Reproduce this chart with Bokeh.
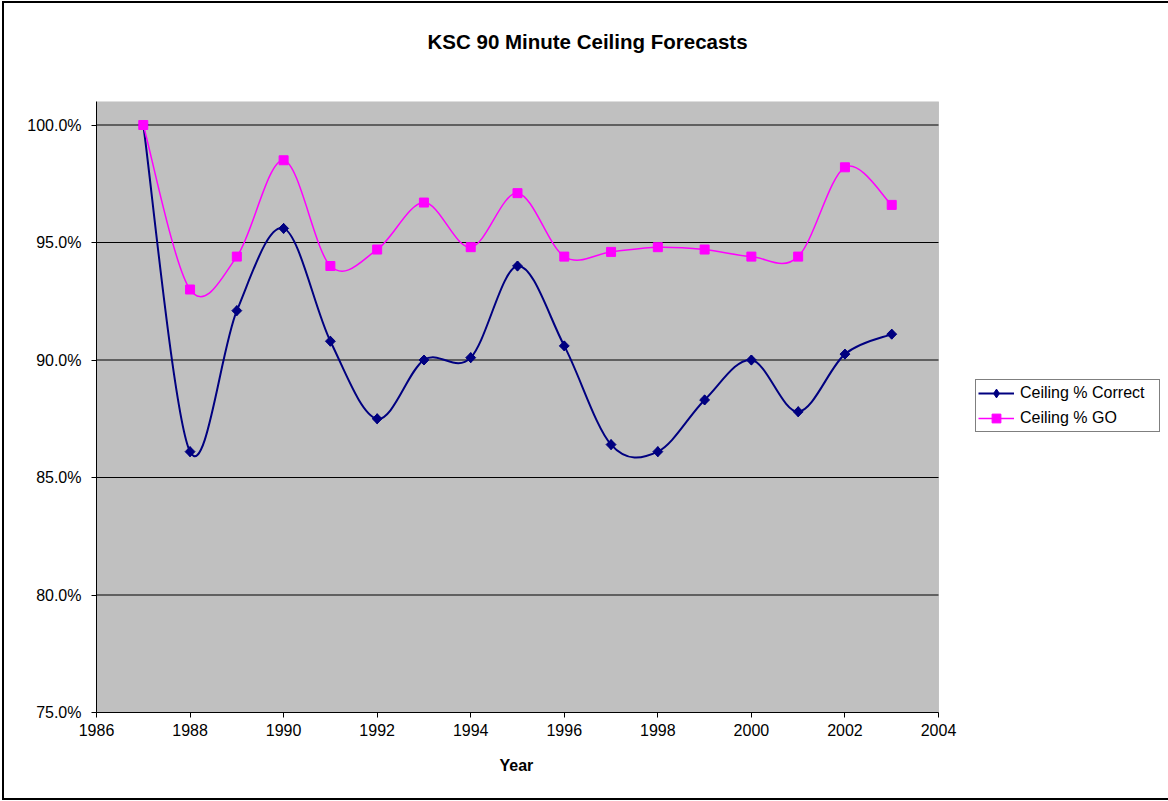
import numpy as np
from bokeh.plotting import figure
from bokeh.models import FixedTicker, Legend, LegendItem, BoxAnnotation, Title
from bokeh.embed import file_html
from bokeh.resources import INLINE

# KSC 90-minute ceiling forecast verification, by year
years = [1987, 1988, 1989, 1990, 1991, 1992, 1993, 1994, 1995,
         1996, 1997, 1998, 1999, 2000, 2001, 2002, 2003]
pct_correct = [100.0, 86.1, 92.1, 95.6, 90.8, 87.5, 90.0, 90.1, 94.0,
               90.6, 86.4, 86.1, 88.3, 90.0, 87.8, 90.25, 91.1]
pct_go = [100.0, 93.0, 94.4, 98.5, 94.0, 94.7, 96.7, 94.8, 97.1,
          94.4, 94.6, 94.8, 94.7, 94.4, 94.4, 98.2, 96.6]

x_ticks = [1986, 1988, 1990, 1992, 1994, 1996, 1998, 2000, 2002, 2004]
y_ticks = [75, 80, 85, 90, 95, 100]

X_MIN, X_MAX = 1986, 2004
Y_MIN, Y_MAX = 75, 101

FONT = "Liberation Sans, Arial, sans-serif"

# canvas / plot-area geometry (pixels); the frame runs on past the grey plot
# area so the legend can sit to its right
CANVAS_W, CANVAS_H = 1180, 799
AREA_LEFT, AREA_W = 92, 842
RIGHT_GAP = CANVAS_W - AREA_LEFT - AREA_W
x_end = X_MAX + RIGHT_GAP * (X_MAX - X_MIN) / AREA_W


def smooth_segments(xs, ys):
    """Cubic Bezier segments (Catmull-Rom style) through every point."""
    x = np.asarray(xs, dtype=float)
    y = np.asarray(ys, dtype=float)
    n = len(x)
    xp = np.concatenate([[x[0]], x, [x[-1]]])
    yp = np.concatenate([[y[0]], y, [y[-1]]])
    return dict(
        x0=x[:-1], y0=y[:-1], x1=x[1:], y1=y[1:],
        cx0=x[:-1] + (xp[2:n + 1] - xp[0:n - 1]) / 6.0,
        cy0=y[:-1] + (yp[2:n + 1] - yp[0:n - 1]) / 6.0,
        cx1=x[1:] - (xp[3:n + 2] - xp[1:n]) / 6.0,
        cy1=y[1:] - (yp[3:n + 2] - yp[1:n]) / 6.0,
    )


p = figure(width=CANVAS_W, height=CANVAS_H, x_range=(X_MIN, x_end),
           y_range=(Y_MIN, Y_MAX),
           output_backend="svg", toolbar_location=None,
           title="KSC 90 Minute Ceiling Forecasts",
           min_border_left=AREA_LEFT, min_border_right=0,
           min_border_top=98, min_border_bottom=90,
           styles={"border": "2px solid black", "margin": "1px 0 0 2px"})

p.background_fill_color = "white"
p.border_fill_color = "white"
p.outline_line_color = None

# grey plot area
p.add_layout(BoxAnnotation(left=X_MIN, right=X_MAX, bottom=Y_MIN, top=Y_MAX,
                           fill_color="#C0C0C0", fill_alpha=1,
                           line_color="#808080", line_width=1, level="image"))

# title
p.title.text_font = FONT
p.title.text_font_size = "20.5px"
p.title.text_font_style = "bold"
p.title.text_color = "black"
p.title.align = "left"
p.title.offset = 331
p.title.standoff = 10
p.add_layout(Title(text=" ", text_font_size="1px", standoff=41), "above")

# horizontal grid lines across the plot area only
p.xgrid.grid_line_color = None
p.ygrid.grid_line_color = None
p.segment(x0=[X_MIN] * len(y_ticks), x1=[X_MAX] * len(y_ticks),
          y0=y_ticks, y1=y_ticks, line_color="black", line_width=1)

# axes
p.xaxis.ticker = FixedTicker(ticks=x_ticks)
p.xaxis.bounds = (X_MIN, X_MAX)
p.yaxis.ticker = FixedTicker(ticks=y_ticks)
p.yaxis.major_label_overrides = {v: f"{v:.1f}%" for v in y_ticks}
p.xaxis.major_label_overrides = {v: str(v) for v in x_ticks}
for ax in (p.xaxis, p.yaxis):
    ax.axis_line_color = "black"
    ax.axis_line_width = 1
    ax.major_tick_line_color = "black"
    ax.major_tick_out = 5
    ax.major_tick_in = 0
    ax.minor_tick_line_color = None
    ax.major_label_text_font = FONT
    ax.major_label_text_font_size = "16px"
    ax.major_label_text_color = "black"
p.xaxis.major_label_standoff = 6
p.yaxis.major_label_standoff = 10

# x-axis title, centred under the grey plot area
p.add_layout(Title(text="Year", text_font=FONT, text_font_size="16px",
                   text_font_style="bold", text_color="black",
                   align="left", offset=403, vertical_align="top",
                   standoff=36), "below")

# smoothed series lines
seg_c = smooth_segments(years, pct_correct)
seg_g = smooth_segments(years, pct_go)
bez_c = p.bezier(source=seg_c, x0="x0", y0="y0", x1="x1", y1="y1",
                 cx0="cx0", cy0="cy0", cx1="cx1", cy1="cy1",
                 line_color="#000080", line_width=2)
bez_g = p.bezier(source=seg_g, x0="x0", y0="y0", x1="x1", y1="y1",
                 cx0="cx0", cy0="cy0", cx1="cx1", cy1="cy1",
                 line_color="#FF00FF", line_width=1.5)

# markers: diamonds (rotated squares) for % correct, squares for % GO
dm_c = p.scatter(years, pct_correct, marker="diamond", size=10,
                 fill_color="#000080", line_color="#000080")
mk_c = p.scatter(years, pct_correct, marker="square", angle=np.pi / 4, size=7,
                 fill_color="#000080", line_color="#000080")
mk_g = p.scatter(years, pct_go, marker="square", size=9,
                 fill_color="#FF00FF", line_color="#FF00FF")

legend = Legend(items=[
    LegendItem(label="Ceiling % Correct", renderers=[bez_c, dm_c]),
    LegendItem(label="Ceiling % GO", renderers=[bez_g, mk_g]),
], location=(879, 280))
legend.label_text_font = FONT
legend.label_text_font_size = "16px"
legend.label_text_color = "black"
legend.glyph_width = 36
legend.glyph_height = 22
legend.label_height = 22
legend.label_width = 137
legend.label_standoff = 6
legend.spacing = 3
legend.padding = 2
legend.margin = 0
legend.border_line_color = "black"
legend.border_line_width = 1
legend.background_fill_color = "white"
legend.background_fill_alpha = 1
p.add_layout(legend, "center")

open("out.html", "w").write(file_html(p, INLINE))
